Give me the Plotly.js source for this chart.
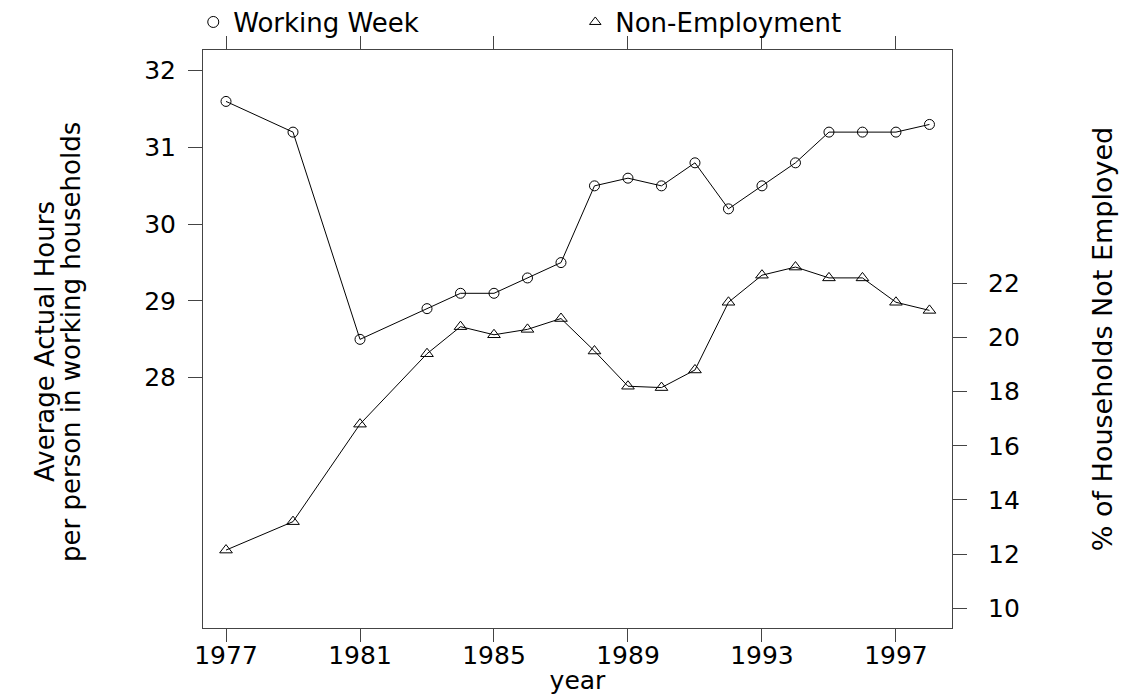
<!DOCTYPE html>
<html>
<head>
<meta charset="utf-8">
<script src="https://cdn.plot.ly/plotly-3.0.1.min.js"></script>
<style>html,body{margin:0;padding:0;background:#fff;}#chart{width:1125px;height:695px;}</style>
</head>
<body>
<div id="chart"></div>
<script>
// Data
var years = [1977, 1979, 1981, 1983, 1984, 1985, 1986, 1987, 1988, 1989, 1990, 1991, 1992, 1993, 1994, 1995, 1996, 1997, 1998];
var workingWeek = [31.6, 31.2, 28.5, 28.9, 29.1, 29.1, 29.3, 29.5, 30.5, 30.6, 30.5, 30.8, 30.2, 30.5, 30.8, 31.2, 31.2, 31.2, 31.3];
var nonEmployment = [12.15, 13.2, 16.8, 19.4, 20.4, 20.1, 20.3, 20.7, 19.5, 18.2, 18.15, 18.8, 21.3, 22.3, 22.6, 22.2, 22.2, 21.3, 21.0];
var xTicks = [1977, 1981, 1985, 1989, 1993, 1997];
var leftTicks = [28, 29, 30, 31, 32];
var rightTicks = [10, 12, 14, 16, 18, 20, 22];
var seriesNames = ["Working Week", "Non-Employment"];
var leftTitleLines = ["Average Actual Hours", "per person in working households"];
var rightTitle = "% of Households Not Employed";
var xTitle = "year";

var FONT = "DejaVu Sans, Liberation Sans, Arial, sans-serif";
var AX = "#444";

var traces = [
  {x: years, y: workingWeek, yaxis: "y", mode: "lines+markers", showlegend: false,
   line: {color: "#000", width: 1},
   marker: {symbol: "circle-open", size: 10, color: "#000", line: {width: 1, color: "#000"}}},
  {x: years, y: nonEmployment, yaxis: "y2", mode: "lines+markers", showlegend: false,
   line: {color: "#000", width: 1},
   marker: {symbol: "triangle-up-open", size: 11, color: "#000", line: {width: 1, color: "#000"}}},
  {x: [null], y: [null], name: seriesNames[0], mode: "markers", showlegend: true,
   marker: {symbol: "circle-open", size: 11, color: "#000", line: {width: 1, color: "#000"}}},
  {x: [null], y: [null], name: seriesNames[1], mode: "markers", showlegend: true, yaxis: "y2",
   marker: {symbol: "triangle-up-open", size: 10, color: "#000", line: {width: 1, color: "#000"}}}
];

var layout = {
  width: 1125, height: 695,
  paper_bgcolor: "#fff", plot_bgcolor: "#fff",
  margin: {l: 203, r: 173, t: 50, b: 67, pad: 0, autoexpand: false},
  font: {family: FONT, size: 25, color: "#000"},
  showlegend: true,
  legend: {orientation: "h", x: -0.013, y: 1.089, xanchor: "left", yanchor: "top",
           entrywidth: 337, entrywidthmode: "pixels", itemwidth: 30,
           font: {family: FONT, size: 26, color: "#000"}, bgcolor: "rgba(0,0,0,0)", borderwidth: 0},
  xaxis: {range: [1976.313, 1998.673], tickvals: xTicks, ticktext: xTicks.map(String),
          ticks: "outside", ticklen: 13, tickwidth: 1, tickcolor: AX, ticklabelstandoff: -8,
          showline: true, linecolor: AX, linewidth: 1, mirror: "ticks",
          showgrid: false, zeroline: false,
          tickfont: {family: FONT, size: 25, color: "#000"},
          title: {text: xTitle, font: {family: FONT, size: 25, color: "#000"}, standoff: 10}},
  yaxis: {range: [24.739, 32.27], tickvals: leftTicks,
          ticks: "outside", ticklen: 14, tickwidth: 1, tickcolor: AX, ticklabelstandoff: 7,
          showline: true, linecolor: AX, linewidth: 1, mirror: false,
          showgrid: false, zeroline: false,
          tickfont: {family: FONT, size: 25, color: "#000"}},
  yaxis2: {range: [9.273, 30.615], tickvals: rightTicks, ticktext: rightTicks.map(String),
           overlaying: "y", side: "right", ticklabelposition: "outside",
           ticks: "outside", ticklen: 14, tickwidth: 1, tickcolor: AX, ticklabelstandoff: 16,
           showline: true, linecolor: AX, linewidth: 1,
           showgrid: false, zeroline: false,
           tickfont: {family: FONT, size: 25, color: "#000"},
           title: {text: rightTitle, font: {family: FONT, size: 27, color: "#000"}, standoff: 74}},
  annotations: [
    {text: leftTitleLines[0], textangle: -90, xref: "paper", yref: "paper",
     x: (45 - 203) / 749, y: (628 - 342) / 578, xanchor: "center", yanchor: "middle",
     showarrow: false, font: {family: FONT, size: 26, color: "#000"}},
    {text: leftTitleLines[1], textangle: -90, xref: "paper", yref: "paper",
     x: (71 - 203) / 749, y: (628 - 342) / 578, xanchor: "center", yanchor: "middle",
     showarrow: false, font: {family: FONT, size: 26, color: "#000"}}
  ]
};

Plotly.newPlot("chart", traces, layout, {displayModeBar: false, staticPlot: true});
</script>
</body>
</html>
